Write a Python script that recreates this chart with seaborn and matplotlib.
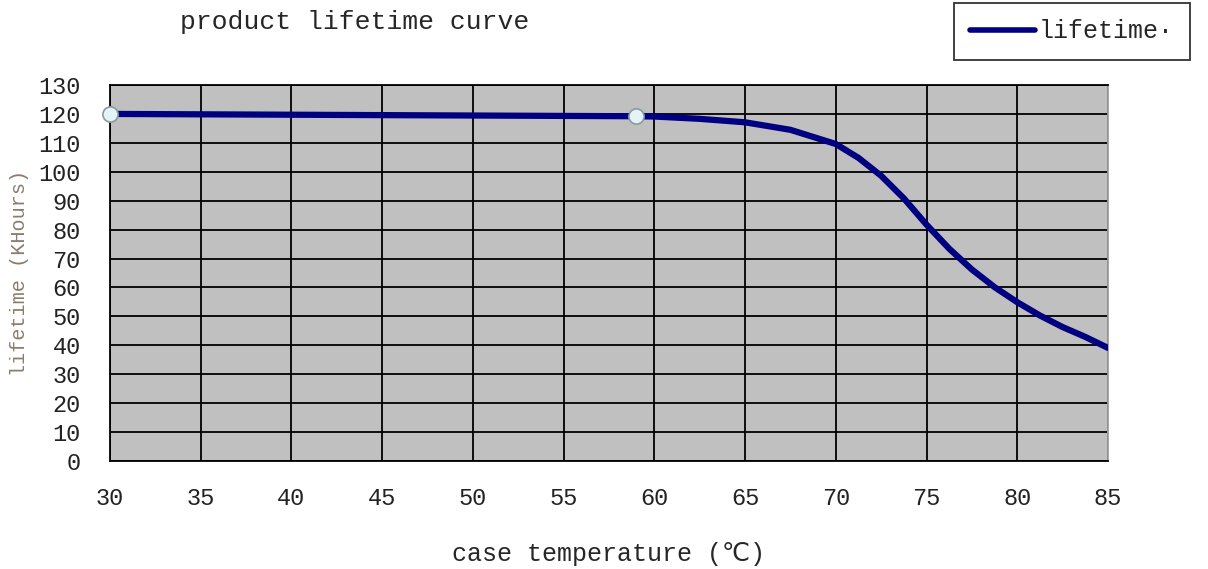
import matplotlib
matplotlib.use("Agg")
import matplotlib.pyplot as plt
import seaborn as sns
import pandas as pd
from matplotlib.lines import Line2D

# data
temps = [30, 59, 60, 62.5, 65, 67.5, 70, 71.25, 72.5, 73.75, 75, 76.25,
         77.5, 78.75, 80, 81.25, 82.5, 83.75, 85]
lifetime = [120, 119.2, 119.1, 118.3, 117.1, 114.5, 109.6, 104.8, 98.6, 90.8,
            81.7, 73.4, 66.2, 60.1, 54.9, 50.3, 46.3, 42.9, 39.1]
marker_temps = [30, 59]
marker_life = [120, 119.2]
x_ticks = [30, 35, 40, 45, 50, 55, 60, 65, 70, 75, 80, 85]
y_ticks = list(range(0, 131, 10))

sns.set_style("white")
plt.rcParams['font.family'] = ['Liberation Mono', 'DejaVu Sans Mono', 'DejaVu Sans']

df = pd.DataFrame({"temp": temps, "life": lifetime})
dm = pd.DataFrame({"temp": marker_temps, "life": marker_life})

fig = plt.figure(figsize=(12.08, 5.69), dpi=100)
ax = fig.add_axes([110/1208, 1-461/569, 998/1208, (461-85)/569])
ax.set_facecolor("#c0c0c0")

sns.lineplot(data=df, x="temp", y="life", ax=ax, color="#000080", linewidth=4.5,
             zorder=3, legend=False)
sns.scatterplot(data=dm, x="temp", y="life", ax=ax, s=120, color="#e4f4f6",
                edgecolor="#8a9aa0", linewidth=1.2, zorder=4, legend=False,
                clip_on=False)

ax.set_xlim(30, 85)
ax.set_ylim(0, 130)
ax.set_xticks(x_ticks)
ax.set_yticks(y_ticks)
ax.grid(True, color="black", linewidth=1.3, zorder=1)
ax.set_axisbelow(True)
for s in ["left", "bottom", "top"]:
    ax.spines[s].set_color("black")
    ax.spines[s].set_linewidth(1.3)
ax.spines["right"].set_color("#a0a0a0")
ax.spines["right"].set_linewidth(1.3)

ax.tick_params(axis="x", length=0, pad=19, labelsize=17, colors="#222222")
ax.tick_params(axis="y", length=0, pad=21, labelsize=17, colors="#222222")

ax.set_xlabel("case temperature (℃)", fontsize=18, labelpad=23,
              family=['Liberation Mono', 'DejaVu Sans'])
ax.set_ylabel("lifetime (KHours)", fontsize=14.5, color="#8c7b6b", labelpad=7)

fig.text(180/1208, 1-22/569, "product lifetime curve", fontsize=19,
         ha="left", va="center")

handle = Line2D([0], [0], color="#000080", linewidth=4)
leg = fig.legend([handle], ["lifetime·"], loc="upper right",
                 bbox_to_anchor=(1190/1208, 1-3/569), fontsize=18,
                 frameon=True, fancybox=False, edgecolor="black",
                 borderpad=0.65, handlelength=2.6, handletextpad=0.15,
                 borderaxespad=0)
leg.get_frame().set_linewidth(1.3)

fig.savefig("out.png", dpi=100)
